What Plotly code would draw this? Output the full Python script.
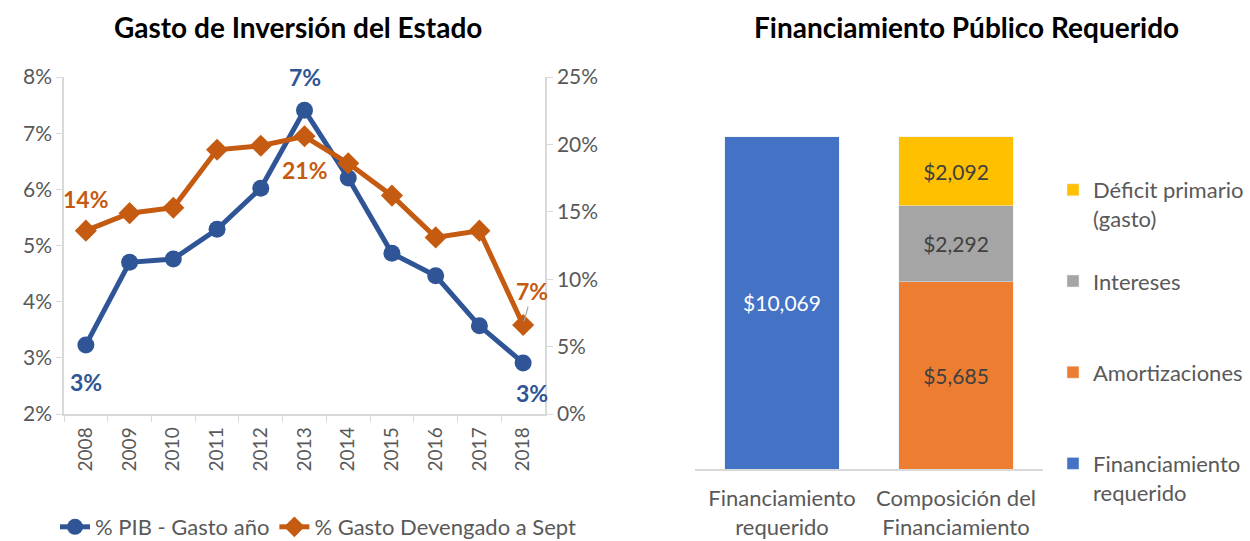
import plotly.graph_objects as go

years = ["2008", "2009", "2010", "2011", "2012", "2013", "2014", "2015", "2016", "2017", "2018"]
pib_gasto = [3.23, 4.70, 4.76, 5.29, 6.02, 7.41, 6.20, 4.86, 4.46, 3.57, 2.91]
gasto_devengado = [13.6, 14.9, 15.3, 19.6, 19.9, 20.6, 18.6, 16.2, 13.1, 13.6, 6.6]

bar_categories = ["Financiamiento<br>requerido", "Composición del<br>Financiamiento"]
financiamiento_requerido = 10069
amortizaciones = 5685
intereses = 2292
deficit_primario = 2092

BLUE_LINE = "#2F5597"
ORANGE_LINE = "#C55A11"
GRID = "#D9D9D9"
TXT = "#595959"
FONT = "Lato"

fig = go.Figure()

fig.add_trace(go.Scatter(
    x=years, y=pib_gasto, name="% PIB - Gasto año", mode="lines+markers",
    line=dict(color=BLUE_LINE, width=5), marker=dict(symbol="circle", size=17, color=BLUE_LINE),
    xaxis="x", yaxis="y", legend="legend"))
fig.add_trace(go.Scatter(
    x=years, y=gasto_devengado, name="% Gasto Devengado a Sept", mode="lines+markers",
    line=dict(color=ORANGE_LINE, width=5), marker=dict(symbol="diamond", size=17, color=ORANGE_LINE),
    xaxis="x", yaxis="y2", legend="legend"))

BAR_FONT = 21
fig.add_trace(go.Bar(
    x=[bar_categories[0]], y=[financiamiento_requerido], name="Financiamiento<br>requerido",
    marker=dict(color="#4472C4"), texttemplate="$%{y:,.0f}", textposition="inside",
    insidetextanchor="middle", textfont=dict(color="white", size=BAR_FONT, family=FONT),
    xaxis="x3", yaxis="y3", legend="legend2", legendgroup="a", legendrank=4))
fig.add_trace(go.Bar(
    x=[bar_categories[1]], y=[amortizaciones], name="Amortizaciones<br> ",
    marker=dict(color="#ED7D31"), texttemplate="$%{y:,.0f}", textposition="inside",
    insidetextanchor="middle", textfont=dict(color="#404040", size=BAR_FONT, family=FONT),
    xaxis="x3", yaxis="y3", legend="legend2", legendgroup="b", legendrank=3))
fig.add_trace(go.Bar(
    x=[bar_categories[1]], y=[intereses], name="Intereses<br> ",
    marker=dict(color="#A5A5A5"), texttemplate="$%{y:,.0f}", textposition="inside",
    insidetextanchor="middle", textfont=dict(color="#404040", size=BAR_FONT, family=FONT),
    xaxis="x3", yaxis="y3", legend="legend2", legendgroup="c", legendrank=2))
fig.add_trace(go.Bar(
    x=[bar_categories[1]], y=[deficit_primario], name="Déficit primario<br>(gasto)",
    marker=dict(color="#FFC000"), texttemplate="$%{y:,.0f}", textposition="inside",
    insidetextanchor="middle", textfont=dict(color="#404040", size=BAR_FONT, family=FONT),
    xaxis="x3", yaxis="y3", legend="legend2", legendgroup="d", legendrank=1))

annotations = [
    dict(text="<b>Gasto de Inversión del Estado</b>", x=298 / 1250, y=1 - 27 / 541, xref="paper", yref="paper",
         showarrow=False, font=dict(size=28, color="#000000", family=FONT), xanchor="center", yanchor="middle"),
    dict(text="<b>Financiamiento Público Requerido</b>", x=966 / 1250, y=1 - 27 / 541, xref="paper", yref="paper",
         showarrow=False, font=dict(size=28, color="#000000", family=FONT), xanchor="center", yanchor="middle"),
]

def lbl(v):
    return f"<b>{round(v)}%</b>"

LBL_FONT = 23
for i, dx, dy in [(0, 0, -37), (5, 0, 33), (10, 9, -30)]:
    annotations.append(dict(text=lbl(pib_gasto[i]), x=i, y=pib_gasto[i], xref="x", yref="y",
                            showarrow=False, xshift=dx, yshift=dy,
                            font=dict(size=LBL_FONT, color=BLUE_LINE, family=FONT)))
for i, dx, dy in [(0, 0, 32), (5, 0, -34)]:
    annotations.append(dict(text=lbl(gasto_devengado[i]), x=i, y=gasto_devengado[i], xref="x", yref="y2",
                            showarrow=False, xshift=dx, yshift=dy,
                            font=dict(size=LBL_FONT, color=ORANGE_LINE, family=FONT)))
annotations.append(dict(text=lbl(gasto_devengado[10]), x=10, y=gasto_devengado[10], xref="x", yref="y2",
                        showarrow=True, arrowhead=0, arrowcolor="#A6A6A6", arrowwidth=1.2,
                        ax=9, ay=-34, standoff=4, font=dict(size=LBL_FONT, color=ORANGE_LINE, family=FONT)))

axis_font = dict(size=21, color=TXT, family=FONT)

fig.update_layout(
    width=1250, height=541,
    margin=dict(l=0, r=0, t=0, b=0, autoexpand=False),
    paper_bgcolor="white", plot_bgcolor="white",
    font=dict(family=FONT, color=TXT),
    barmode="stack", bargap=0.34,
    xaxis=dict(domain=[64 / 1250, 545 / 1250], anchor="y", type="category", range=[-0.5, 10.5],
               showline=True, linecolor=GRID, linewidth=1.5, showgrid=False,
               ticks="outside", tickson="boundaries", ticklen=6, tickcolor=GRID,
               tickangle=-90, tickfont=dict(size=19, color=TXT, family=FONT), ticklabelstandoff=4),
    yaxis=dict(domain=[1 - 414 / 541, 1 - 77 / 541], anchor="x", range=[2, 8], dtick=1,
               ticksuffix="%", showline=True, linecolor=GRID, linewidth=1.5, showgrid=False,
               zeroline=False, ticks="outside", ticklen=6, tickcolor=GRID, tickfont=axis_font),
    yaxis2=dict(overlaying="y", side="right", anchor="x", range=[0, 25], dtick=5,
                ticksuffix="%", showline=True, linecolor=GRID, linewidth=1.5, showgrid=False,
                zeroline=False, ticks="outside", ticklen=6, tickcolor=GRID, tickfont=axis_font),
    xaxis3=dict(domain=[695 / 1250, 1043 / 1250], anchor="y3", type="category",
                showline=True, linecolor=GRID, linewidth=2, showgrid=False, ticks="",
                tickfont=dict(size=22, color=TXT, family=FONT), ticklabelstandoff=9),
    yaxis3=dict(domain=[1 - 469 / 541, 1 - 73.3 / 541], anchor="x3", range=[0, 12000], visible=False),
    legend=dict(orientation="h", x=318 / 1250, xanchor="center", y=1 - 527 / 541, yanchor="middle",
                font=dict(size=22, color=TXT, family=FONT), bgcolor="rgba(0,0,0,0)"),
    legend2=dict(orientation="v", x=1053 / 1250, xanchor="left", y=1 - 169 / 541, yanchor="top",
                 traceorder="grouped", tracegroupgap=31, valign="top",
                 font=dict(size=22, color=TXT, family=FONT), bgcolor="rgba(0,0,0,0)"),
    annotations=annotations,
    showlegend=True,
)

fig.write_html("out.html")
